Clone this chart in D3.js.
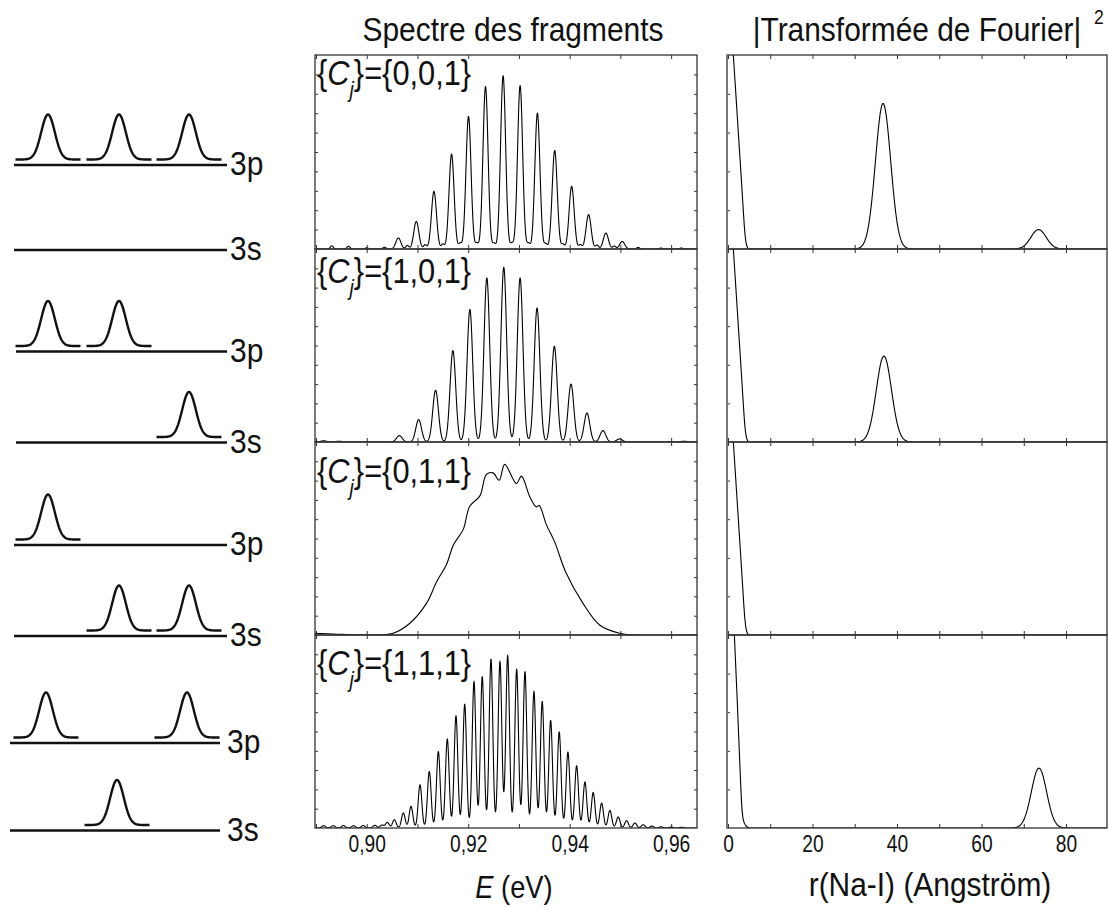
<!DOCTYPE html>
<html><head><meta charset="utf-8">
<script src="https://cdn.jsdelivr.net/npm/d3@7"></script>
<style>body{margin:0;background:#fff}svg{display:block}</style>
</head><body>
<svg id="c" width="1109" height="907"></svg>
<script>
// ---------------- DATA ----------------
const panelSets = ["{0,0,1}", "{1,0,1}", "{0,1,1}", "{1,1,1}"];
const xTicksE = [0.90, 0.92, 0.94, 0.96];
const xTicksR = [0, 20, 40, 60, 80];

// Spectrum {0,0,1}: main fringe peaks [E, intensity]
const spec001Peaks = [[0.90623,0.057],[0.90977,0.142],[0.91325,0.297],[0.91672,0.489],[0.92006,0.683],
  [0.92341,0.837],[0.92688,0.892],[0.93023,0.842],[0.93364,0.700],[0.93705,0.508],[0.94039,0.323],
  [0.94373,0.177],[0.94714,0.082],[0.95036,0.039]];
// small secondary bumps / ripples
const spec001Minor = [[0.8931,0.016],[0.8964,0.014],[0.9000,0.006],[0.9035,0.009],[0.9080,0.018],
  [0.9115,0.022],[0.9150,0.025],[0.9184,0.028],[0.9217,0.028],[0.9251,0.028],[0.9286,0.028],
  [0.9319,0.028],[0.9353,0.026],[0.9387,0.024],[0.9421,0.022],[0.9454,0.020],[0.9488,0.015],
  [0.9535,0.008],[0.9580,0.005],[0.9620,0.005]];

// Spectrum {1,0,1}
const spec101Peaks = [[0.90643,0.033],[0.91023,0.116],[0.91357,0.268],[0.91698,0.473],[0.92033,0.686],
  [0.92367,0.850],[0.92701,0.905],[0.93023,0.850],[0.93357,0.694],[0.93698,0.496],[0.94026,0.300],
  [0.94341,0.150],[0.94656,0.059],[0.94983,0.016]];
const spec101Minor = [[0.8915,0.006],[0.8945,0.004],[0.9625,0.004]];

const spec011Profile = [[0.8898,0.009],[0.8934,0.005],[0.9000,0.0],[0.9052,0.009],[0.9085,0.061],
  [0.9118,0.165],[0.9138,0.277],[0.9157,0.364],[0.9171,0.468],[0.9190,0.546],[0.9203,0.667],
  [0.9223,0.721],[0.9236,0.832],[0.9249,0.840],[0.9261,0.802],[0.9272,0.884],[0.9295,0.785],
  [0.9305,0.823],[0.9321,0.719],[0.9334,0.664],[0.9340,0.671],[0.9354,0.572],[0.9370,0.485],
  [0.9393,0.321],[0.9426,0.165],[0.9459,0.052],[0.9498,0.009],[0.9525,0.0],[0.9651,0.0]];

// Spectrum {1,1,1}
const spec111Peaks = [[0.8915,0.012],[0.8934,0.012],[0.8954,0.013],[0.8974,0.012],[0.8993,0.013],
  [0.9016,0.014],[0.9030,0.015],[0.90406,0.029],[0.90544,0.043],[0.90721,0.078],[0.90873,0.112],
  [0.91050,0.224],[0.91233,0.293],[0.91411,0.396],[0.91588,0.460],[0.91759,0.581],[0.91931,0.641],
  [0.92114,0.758],[0.92277,0.784],[0.92449,0.874],[0.92626,0.862],[0.92778,0.893],[0.92955,0.822],
  [0.93119,0.810],[0.93296,0.707],[0.93459,0.655],[0.93625,0.557],[0.93794,0.497],[0.93966,0.393],
  [0.94137,0.322],[0.94301,0.238],[0.94464,0.184],[0.94630,0.129],[0.94793,0.091],[0.94957,0.057],
  [0.95122,0.038],[0.95286,0.026],[0.95449,0.017],[0.9562,0.010],[0.9580,0.006],[0.9600,0.005],
  [0.9620,0.004]];

// |Fourier transform|^2 : zero-order peak profiles [r, value] and further peaks [r, height]
const zeroPeakProfile = [[-0.3,1.6],[0.8,1.15],[1.26,1.0],[2.0,0.75],[2.68,0.52],[3.3,0.31],[3.7,0.17],
  [4.0,0.08],[4.3,0.03],[4.6,0.008],[5.0,0.0],[5.5,0.0]];
const zeroPeakProfile111 = [[-0.3,1.6],[1.0,1.2],[1.5,1.0],[2.2,0.65],[2.8,0.33],[3.24,0.12],[3.6,0.045],
  [4.2,0.012],[4.8,0.003],[5.2,0.0],[5.5,0.0]];
const fourier001 = [[36.7,0.75],[73.5,0.10]];
const fourier101 = [[36.9,0.445]];
const fourier011 = [];
const fourier111 = [[73.6,0.31]];

// Schematic: slots (1..3) of the wave packets on each level
const schem3p = [[1,2,3],[1,2],[1],[1,3]];
const schem3s = [[],[3],[2,3],[2]];
const levelNames = ["3p", "3s"];

// ---------------- LAYOUT ----------------
const FONT = "'Liberation Sans', Arial, Helvetica, sans-serif";
const SX = 0.88;
const svg = d3.select('#c').style('font-family', FONT);
const tops = [55, 249, 442, 635], bots = [249, 442, 635, 828];
const midX = [315, 697], rightX = [727, 1107];

const xE = d3.scaleLinear().domain([0.8898, 0.9651]).range(midX);
const xR = d3.scaleLinear().domain([-0.24, 89.7]).range(rightX);
const yS = tops.map((t, i) => d3.scaleLinear().domain([0, 1]).range([bots[i], t]));

function ctext(x, y, str, size, anchor, sx) {
  return svg.append('text').attr('transform', `translate(${x},${y}) scale(${sx||SX},1)`)
    .attr('text-anchor', anchor || 'start').style('font-size', size + 'px').attr('fill', '#111').text(str);
}

// clip paths
const defs = svg.append('defs');
tops.forEach((t, i) => {
  defs.append('clipPath').attr('id', 'cm' + i).append('rect')
    .attr('x', midX[0]).attr('y', t).attr('width', midX[1] - midX[0]).attr('height', bots[i] - t);
  defs.append('clipPath').attr('id', 'cr' + i).append('rect')
    .attr('x', rightX[0]).attr('y', t).attr('width', rightX[1] - rightX[0]).attr('height', bots[i] - t);
});

function gauss(peaks, sigma, x) {
  let s = 0;
  for (const p of peaks) { const d = x - p[0]; s += p[1] * Math.exp(-d * d / (2 * sigma * sigma)); }
  return s;
}
const gridE = d3.range(xE.domain()[0], xE.domain()[1] + 1e-6, 0.00002);
const spectra = [
  gridE.map(e => [e, gauss(spec001Peaks, 0.0005, e) + gauss(spec001Minor, 0.0003, e)]),
  gridE.map(e => [e, gauss(spec101Peaks, 0.00056, e) + gauss(spec101Minor, 0.0006, e)]),
  spec011Profile,
  gridE.map(e => [e, gauss(spec111Peaks, 0.00036, e)])
];

spectra.forEach((data, i) => {
  const line = d3.line().x(d => xE(d[0])).y(d => yS[i](d[1]))
    .curve(i === 2 ? d3.curveCatmullRom.alpha(0.5) : d3.curveLinear);
  svg.append('path').datum(data).attr('clip-path', `url(#cm${i})`)
    .attr('d', line).attr('fill', 'none').attr('stroke', '#000').attr('stroke-width', 1.1);
});

// Fourier curves
const fourierPeaks = [fourier001, fourier101, fourier011, fourier111];
const zeroProfiles = [zeroPeakProfile, zeroPeakProfile, zeroPeakProfile, zeroPeakProfile111];
const gridR = d3.range(5.6, 89.8, 0.1);
fourierPeaks.forEach((pk, i) => {
  const data = zeroProfiles[i].concat(gridR.map(r => [r, gauss(pk, 1.8, r)]));
  const line = d3.line().x(d => xR(d[0])).y(d => yS[i](d[1])).curve(d3.curveMonotoneX);
  svg.append('path').datum(data).attr('clip-path', `url(#cr${i})`)
    .attr('d', line).attr('fill', 'none').attr('stroke', '#000').attr('stroke-width', 1.1);
});

// frames and ticks
const tickStyle = g => { g.select('.domain').remove(); g.selectAll('line').attr('stroke', '#333'); g.selectAll('text').remove(); };
const minorE = d3.range(0.89, 0.966, 0.01);
tops.forEach((t, i) => {
  const b = bots[i];
  // middle
  svg.append('g').attr('transform', `translate(0,${b})`).call(d3.axisTop(xE).tickValues(minorE).tickSize(4)).call(tickStyle);
  svg.append('g').attr('transform', `translate(0,${t})`).call(d3.axisBottom(xE).tickValues(minorE).tickSize(4)).call(tickStyle);
  const yTicks = d3.range(1, 10).map(k => k / 10);
  svg.append('g').attr('transform', `translate(${midX[0]},0)`).call(d3.axisRight(yS[i]).tickValues(yTicks).tickSize(3)).call(tickStyle);
  svg.append('g').attr('transform', `translate(${midX[1]},0)`).call(d3.axisLeft(yS[i]).tickValues(yTicks).tickSize(3)).call(tickStyle);
  svg.append('rect').attr('x', midX[0]).attr('y', t).attr('width', midX[1] - midX[0]).attr('height', b - t)
    .attr('fill', 'none').attr('stroke', '#333').attr('stroke-width', 1.3);
  // right
  const rT = d3.range(0, 90, 10);
  svg.append('g').attr('transform', `translate(0,${b})`).call(d3.axisTop(xR).tickValues(rT).tickSize(4)).call(tickStyle);
  svg.append('g').attr('transform', `translate(0,${t})`).call(d3.axisBottom(xR).tickValues(rT).tickSize(4)).call(tickStyle);
  svg.append('g').attr('transform', `translate(${rightX[0]},0)`).call(d3.axisRight(yS[i]).tickValues([0.2, 0.4, 0.6, 0.8]).tickSize(3)).call(tickStyle);
  svg.append('rect').attr('x', rightX[0]).attr('y', t).attr('width', rightX[1] - rightX[0]).attr('height', b - t)
    .attr('fill', 'none').attr('stroke', '#333').attr('stroke-width', 1.3);
});
svg.append('line').attr('x1', rightX[0]).attr('x2', rightX[0]).attr('y1', tops[0]).attr('y2', bots[3])
  .attr('stroke', '#777').attr('stroke-width', 1.8);

// tick labels
const fmtE = d => d.toFixed(2).replace('.', ',');
const labStyle = g => {
  g.select('.domain').remove(); g.selectAll('line').remove();
  g.selectAll('text').style('font-size', '24px').style('font-family', FONT).attr('fill', '#111')
    .attr('transform', 'scale(0.8,1)');
};
svg.append('g').attr('transform', `translate(0,${bots[3]})`)
  .call(d3.axisBottom(xE).tickValues(xTicksE).tickFormat(fmtE).tickSize(0).tickPadding(7)).call(labStyle);
svg.append('g').attr('transform', `translate(0,${bots[3]})`)
  .call(d3.axisBottom(xR).tickValues(xTicksR).tickFormat(d3.format('d')).tickSize(0).tickPadding(7)).call(labStyle);

// panel labels {Cj}={...}
const labelBase = [85, 283, 483, 675];
panelSets.forEach((s, i) => {
  const t = svg.append('text').attr('transform', `translate(317,${labelBase[i]}) scale(${SX},1)`)
    .style('font-size', '35px').attr('fill', '#111');
  t.append('tspan').text('{');
  t.append('tspan').style('font-style', 'italic').text('C');
  t.append('tspan').style('font-style', 'italic').style('font-size', '22px').attr('dy', 12).text('j');
  t.append('tspan').attr('dy', -12).text('}=' + s);
});

// titles
ctext(513, 41, 'Spectre des fragments', 34, 'middle');
ctext(917, 41, '|Transformée de Fourier|', 34, 'middle');
ctext(1094, 24, '2', 20, 'start');
// axis titles
const et = svg.append('text').attr('transform', `translate(514,898) scale(${SX},1)`)
  .attr('text-anchor', 'middle').style('font-size', '31px').attr('fill', '#111');
et.append('tspan').style('font-style', 'italic').text('E');
et.append('tspan').text(' (eV)');
ctext(930, 896, 'r(Na-I) (Angström)', 34, 'middle');

// ---------------- Schematic ----------------
const levelY = [[165, 250], [351.5, 442.5], [545, 636], [743, 830.5]];
const lineX = [[14, 227], [16, 227], [14, 227], [10, 220]];
const labelX = [230, 230, 230, 227];
const slotX = [48, 119, 189];
const groupShift = [0, 0, 0, -2];
const packetLine = d3.line().x(d => d[0]).y(d => d[1]);
function packet(cx, base) {
  const pts = d3.range(-32.5, 32.6, 0.5).map(dx => [cx + dx, base - 45 * Math.exp(-dx * dx / (2 * 6.8 * 6.8))]);
  svg.append('path').attr('d', packetLine(pts)).attr('fill', 'none').attr('stroke', '#111').attr('stroke-width', 2.4);
}
[schem3p, schem3s].forEach((lev, li) => {
  lev.forEach((slots, g) => {
    const y = levelY[g][li];
    svg.append('line').attr('x1', lineX[g][0]).attr('x2', lineX[g][1]).attr('y1', y).attr('y2', y)
      .attr('stroke', '#111').attr('stroke-width', 2.6);
    ctext(labelX[g], y + 10, levelNames[li], 34, 'start');
    slots.forEach(s => packet(slotX[s - 1] + groupShift[g], y - 5.5));
  });
});
</script>
</body></html>
